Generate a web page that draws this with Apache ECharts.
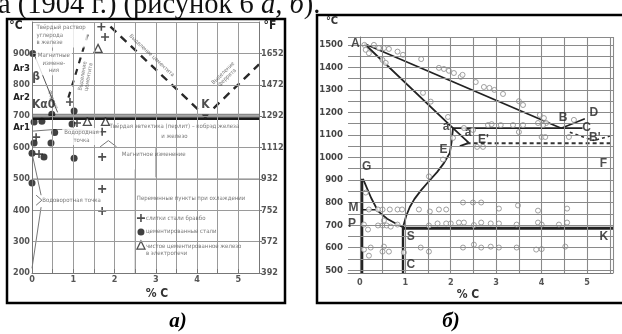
<!DOCTYPE html>
<html>
<head>
<meta charset="utf-8">
<script src="https://cdn.jsdelivr.net/npm/echarts@6/dist/echarts.min.js"></script>
<style>
html, body { margin: 0; padding: 0; background: #fff; }
#chart { width: 622px; height: 334px; }
</style>
</head>
<body>
<div id="chart"></div>
<script>
// ---------- panel а) ----------
const aXLabels = [0, 1, 2, 3, 4, 5];
const aXGrid = [0.5, 1, 1.5, 2, 2.5, 3, 3.5, 4, 4.5, 5];
const aYGrid = [300, 400, 500, 600, 700, 800, 900, 1000];
const aCelsius = [200, 300, 400, 500, 600, 700, 800, 900];
const aArValues = [663, 760, 853];
const aArNames = ['Ar1', 'Ar2', 'Ar3'];

const aEutectoid = [[0, 692], [5.5, 692]];
const aEutectoidShade = [[0, 704], [5.5, 704]];
const aCementiteDash = [[1.9, 985], [4.05, 718]];
const aFerriteDash = [[4.4, 725], [5.5, 865]];
const aAcmDash = [[1.35, 960], [0.85, 745]];
const aFerriteLine = [[0.05, 898], [0.62, 712]];
const aHydrogenLine = [[0, 652], [0.5, 657], [1.0, 658], [1.6, 650]];
const aCaret = [[1.65, 602], [1.85, 622], [2.05, 602]];
const aVortexUpper = [[0, 582], [0.22, 448]];
const aVortexLower = [[0, 215], [0.22, 410]];
const aVortexBracket = [[0.1, 448], [0.24, 432], [0.1, 416]];
const aLegendEdge = [[2.5, 200], [2.5, 530]];
const aStub30 = [[3, 598], [3, 505]];
const aStub35 = [[3.5, 598], [3.5, 505]];

const aDots = [[0.02, 900], [0.05, 681], [0.24, 684], [0.48, 706], [1.02, 716], [0.97, 675],
  [0.55, 648], [0.05, 614], [0.46, 614], [0.0, 582], [0.29, 570], [1.02, 566], [0.0, 487]];
const aPluses = [[1.09, 678], [1.7, 650], [0.92, 745], [0.1, 633], [0.17, 579], [1.7, 570],
  [1.7, 468], [1.7, 398], [1.68, 985], [1.77, 952]];
const aTriangles = [[1.34, 683], [1.78, 683], [1.6, 916]];
const aKPoint = [[4.2, 697]];
const aLegendPlus = [[2.64, 375]];
const aLegendDot = [[2.64, 331]];
const aLegendTri = [[2.64, 289]];

// ---------- panel б) ----------
const bXLabels = [0, 1, 2, 3, 4, 5];
const bXGrid = [0, 0.5, 1, 1.5, 2, 2.5, 3, 3.5, 4, 4.5, 5, 5.5, 5.57];
const bYLabels = [500, 600, 700, 800, 900, 1000, 1100, 1200, 1300, 1400, 1500];
const bYGrid = [500, 550, 600, 650, 700, 750, 800, 850, 900, 950, 1000, 1050, 1100,
  1150, 1200, 1250, 1300, 1350, 1400, 1450, 1500, 1535];

const bAB = [[0.1, 1505], [4.43, 1130]];
const bAa = [[0.1, 1505], [2.05, 1130], [2.4, 1065], [2.2, 1050]];
const baC = [[2.05, 1130], [4.9, 1130]];
const bBD = [[4.43, 1130], [4.95, 1172]];
const bEutectic = [[2.35, 1063], [5.57, 1063]];
const bB1 = [[4.62, 1112], [5.15, 1075]];
const bD1 = [[5.2, 1078], [5.55, 1098]];
const bES = [[0.95, 690], [1.02, 740], [1.1, 780], [1.2, 815], [1.35, 855], [1.5, 890],
  [1.7, 935], [1.85, 975], [1.98, 1020], [2.02, 1070], [2.05, 1130]];
const bGS = [[0.07, 905], [0.25, 820], [0.4, 762], [0.6, 728], [0.8, 706], [0.95, 690]];
const bGP = [[0.05, 905], [0.05, 487]];
const bM = [[0.05, 768], [0.38, 768]];
const bSK = [[0.95, 686], [5.57, 686]];
const bSC = [[0.95, 690], [0.95, 487]];

const bCircles = [
  [0.1, 1500], [0.13, 1478], [0.2, 1463], [0.31, 1500], [0.42, 1486], [0.53, 1486], [0.64, 1482],
  [0.83, 1470], [0.95, 1456], [0.5, 1433], [0.57, 1420], [1.35, 1437], [1.74, 1398], [1.85, 1393],
  [1.96, 1385], [2.07, 1375], [2.22, 1358], [1.39, 1287], [1.56, 1248], [1.94, 1180],
  [2.26, 1367], [2.55, 1335], [2.73, 1313], [2.85, 1309], [2.96, 1300], [3.15, 1282], [3.5, 1250],
  [3.59, 1233], [3.96, 1189], [4.05, 1175], [4.1, 1153], [3.92, 1153], [4.71, 1167],
  [2.29, 1131], [2.82, 1144], [2.9, 1148], [3.1, 1144], [3.37, 1144], [3.59, 1144], [4.03, 1144],
  [3.5, 1113], [4.0, 1091], [4.08, 1091], [4.6, 1091], [2.58, 1047], [2.71, 1047], [2.49, 1122],
  [2.05, 1087],
  [0.2, 769], [0.4, 769], [0.5, 769], [0.66, 769], [0.83, 769], [0.93, 769], [1.3, 769],
  [1.54, 760], [1.74, 769], [1.9, 769],
  [0.09, 702], [0.18, 680], [0.4, 698], [0.5, 698], [0.59, 698], [0.68, 693], [0.53, 720],
  [0.83, 702], [1.52, 698], [1.71, 707], [1.9, 707], [2.0, 707], [2.18, 711], [2.29, 711],
  [0.09, 591], [0.24, 600], [0.2, 564], [0.53, 604], [0.5, 582], [0.64, 582], [0.97, 578],
  [1.34, 600], [1.52, 582],
  [1.52, 916], [1.83, 991], [0.13, 844],
  [2.27, 800], [2.49, 800], [2.67, 800], [3.06, 773], [3.48, 787], [3.92, 764], [4.56, 773],
  [2.51, 700], [2.67, 711], [2.88, 707], [3.06, 707], [3.45, 702], [3.92, 711], [4.0, 702],
  [4.38, 702], [4.56, 711],
  [2.27, 600], [2.51, 613], [2.67, 600], [2.88, 604], [3.06, 600], [3.45, 600], [3.88, 591],
  [4.0, 593], [4.52, 604]
];

// annotation texts, anchored in data units
const aNotes = [
  { text: 'Твёрдый раствор\nуглерода\nв железе', at: [0.06, 958], kind: 'boxL' },
  { text: 'Магнитные\nизмене-\nния', at: [0.53, 869], kind: 'box' },
  { text: 'Феррит', at: [0.5, 752], rotate: -68, kind: 'small' },
  { text: 'Выделение\nцементита', at: [1.3, 826], rotate: 80, kind: 'small' },
  { text: 'Выделение цементита', at: [2.9, 893], rotate: -43, kind: 'small' },
  { text: 'Выделение\nферрита', at: [4.68, 830], rotate: 44, kind: 'small' },
  { text: 'Kα0', at: [0.0, 735], kind: 'bigL' },
  { text: 'β', at: [0.1, 824], kind: 'big' },
  { text: 'K', at: [4.2, 737], kind: 'big' },
  { text: 'Твёрдая эвтектика (перлит) – кобрэд железа\nи железо', at: [3.45, 650], kind: 'plain' },
  { text: 'Водородная\nточка', at: [1.2, 635], kind: 'box' },
  { text: 'Магнитное изменение', at: [2.95, 577], kind: 'plain' },
  { text: 'Водоворотная точка', at: [0.25, 430], kind: 'plainL' },
  { text: 'Переменные пункты при охлаждении', at: [2.54, 439], kind: 'plainL' },
  { text: 'слитки стали бравбо', at: [2.76, 375], kind: 'plainL' },
  { text: 'цементированные стали', at: [2.76, 331], kind: 'plainL' },
  { text: 'чистое цементированное железо\nв электропечи', at: [2.76, 274], kind: 'plainL' }
];
const bNotes = [
  { text: 'A', at: [-0.1, 1505] }, { text: 'B', at: [4.47, 1176] }, { text: 'D', at: [5.15, 1198] },
  { text: 'C', at: [4.99, 1131] }, { text: "D'", at: [5.66, 1136] }, { text: "B'", at: [5.17, 1090] },
  { text: "E'", at: [2.72, 1080] }, { text: 'a', at: [1.9, 1135] }, { text: 'a', at: [2.38, 1110] },
  { text: 'E', at: [1.84, 1035] }, { text: 'G', at: [0.15, 958] }, { text: 'M', at: [-0.14, 779] },
  { text: 'P', at: [-0.17, 705] }, { text: 'S', at: [1.12, 650] }, { text: 'C', at: [1.12, 522] },
  { text: 'K', at: [5.37, 650] }, { text: 'F', at: [5.36, 972] }
];

const SANS = '"Liberation Sans Narrow", "DejaVu Sans Condensed", "Liberation Sans", sans-serif';
const SERIF = '"Liberation Serif", "DejaVu Serif", serif';

function seg(data, idx, color, width, type, z) {
  return {
    type: 'line', xAxisIndex: idx, yAxisIndex: idx === 0 ? 0 : 2, data: data,
    symbol: 'none', silent: true, z: z || 3,
    lineStyle: { color: color, width: width, type: type || 'solid', cap: 'butt' }
  };
}
function gridLines(idx, xs, ys, color, width) {
  return {
    type: 'scatter', xAxisIndex: idx, yAxisIndex: idx === 0 ? 0 : 2, data: [], z: 1, silent: true,
    markLine: {
      silent: true, symbol: ['none', 'none'], label: { show: false }, animation: false,
      lineStyle: { color: color, width: width, type: 'solid' },
      data: xs.map(v => ({ xAxis: v })).concat(ys.map(v => ({ yAxis: v })))
    }
  };
}
function noteItem(n) {
  const k = n.kind;
  const lab = {
    show: true, position: 'inside', formatter: n.text, rotate: n.rotate || 0,
    fontFamily: SANS, color: '#555', fontSize: 6, lineHeight: 7.5
  };
  if (k === 'boxL' || k === 'box') { lab.backgroundColor = '#fff'; lab.padding = [1, 2]; }
  if (k === 'boxL' || k === 'plainL' || k === 'bigL') lab.align = 'left';
  if (k === 'small') { lab.fontSize = 5.5; lab.lineHeight = 6; }
  if (k === 'big' || k === 'bigL') { lab.fontSize = 12; lab.fontWeight = 'bold'; lab.color = '#222'; lab.lineHeight = 13; }
  if (k === 'plain') { lab.lineHeight = 10; }
  return { value: n.at, label: lab };
}

const chart = echarts.init(document.getElementById('chart'));
const axisFont = { fontFamily: SANS, fontWeight: 'bold', color: '#555', fontSize: 9 };

chart.setOption({
  animation: false,
  backgroundColor: '#fff',
  grid: [
    { left: 32, top: 22, width: 227, height: 251 },
    { left: 348, top: 37, width: 265, height: 236 }
  ],
  xAxis: [
    {
      gridIndex: 0, type: 'value', min: 0, max: 5.5, interval: 0.5, z: 6,
      axisLine: { lineStyle: { color: '#777', width: 1 } },
      axisTick: { show: true, inside: true, length: 4, lineStyle: { color: '#777' } },
      axisLabel: Object.assign({ customValues: aXLabels, margin: 2, formatter: v => String(v) }, axisFont),
      splitLine: { show: false }
    },
    {
      gridIndex: 1, type: 'value', min: -0.26, max: 5.57, z: 6,
      axisLine: { lineStyle: { color: '#777', width: 1 } },
      axisTick: { show: false },
      axisLabel: Object.assign({ customValues: bXLabels, margin: 5, formatter: v => String(v) }, axisFont),
      splitLine: { show: false }
    }
  ],
  yAxis: [
    {
      gridIndex: 0, type: 'value', min: 200, max: 1000, z: 6,
      axisLine: { show: true, lineStyle: { color: '#777', width: 1 } },
      axisTick: { show: false },
      axisLabel: Object.assign({
        customValues: aCelsius.concat(aArValues), margin: 2,
        formatter: v => {
          const i = aArValues.indexOf(v);
          return i >= 0 ? '{ar|' + aArNames[i] + '}' : String(v);
        },
        rich: { ar: { fontFamily: SANS, fontWeight: 'bold', fontSize: 9.5, color: '#222' } }
      }, axisFont),
      splitLine: { show: false }
    },
    {
      gridIndex: 0, type: 'value', position: 'right', min: 200, max: 1000, z: 6,
      axisLine: { show: true, lineStyle: { color: '#777', width: 1 } },
      axisTick: { show: true, customValues: aCelsius, length: 3, lineStyle: { color: '#777' } },
      axisLabel: Object.assign({
        customValues: aCelsius, margin: 2,
        formatter: v => String(Math.round(v * 1.8 + 32))
      }, axisFont),
      splitLine: { show: false }
    },
    {
      gridIndex: 1, type: 'value', min: 487, max: 1535, z: 6,
      axisLine: { show: true, lineStyle: { color: '#777', width: 1 } },
      axisTick: { show: false },
      axisLabel: Object.assign({ customValues: bYLabels, margin: 5, formatter: v => String(v) },
        axisFont, { fontSize: 9.5, color: '#444' }),
      splitLine: { show: false }
    }
  ],
  series: [
    // ---- а) ----
    gridLines(0, aXGrid, aYGrid, '#9a9a9a', 1),
    {
      type: 'scatter', xAxisIndex: 0, yAxisIndex: 0, data: [], z: 2, silent: true,
      markArea: {
        silent: true, itemStyle: { color: '#fff' },
        data: [[{ coord: [2.5, 200] }, { coord: [5.5, 598] }]]
      }
    },
    seg(aLegendEdge, 0, '#9a9a9a', 1, 'solid', 2),
    seg(aStub30, 0, '#9a9a9a', 1, 'solid', 2),
    seg(aStub35, 0, '#9a9a9a', 1, 'solid', 2),
    seg([[0, 500], [5.5, 500]], 0, '#9a9a9a', 1, 'solid', 2),
    seg(aEutectoidShade, 0, '#888', 2, 'solid', 3),
    seg(aEutectoid, 0, '#1a1a1a', 2.6, 'solid', 3),
    seg(aCementiteDash, 0, '#2a2a2a', 2.4, [8, 6]),
    seg(aFerriteDash, 0, '#2a2a2a', 2.4, [8, 6]),
    seg(aAcmDash, 0, '#2a2a2a', 2.2, [6, 6]),
    seg(aFerriteLine, 0, '#555', 1),
    seg(aHydrogenLine, 0, '#777', 1),
    seg(aCaret, 0, '#777', 1),
    seg(aVortexUpper, 0, '#777', 1),
    seg(aVortexLower, 0, '#777', 1),
    seg(aVortexBracket, 0, '#777', 1),
    {
      type: 'scatter', xAxisIndex: 0, yAxisIndex: 0, z: 4, silent: true,
      data: aDots.concat(aLegendDot), symbol: 'circle', symbolSize: 7,
      itemStyle: { color: '#111' }
    },
    {
      type: 'scatter', xAxisIndex: 0, yAxisIndex: 0, z: 4, silent: true,
      data: aPluses.concat(aLegendPlus), symbol: 'path://M4,0H6V4H10V6H6V10H4V6H0V4H4Z', symbolSize: 8,
      itemStyle: { color: '#222' }
    },
    {
      type: 'scatter', xAxisIndex: 0, yAxisIndex: 0, z: 4, silent: true,
      data: aTriangles.concat(aLegendTri), symbol: 'triangle', symbolSize: 8,
      itemStyle: { color: '#fff', borderColor: '#222', borderWidth: 1.3 }
    },
    {
      type: 'scatter', xAxisIndex: 0, yAxisIndex: 0, z: 4, silent: true,
      data: aKPoint, symbol: 'triangle', symbolRotate: 180, symbolSize: [7, 5],
      itemStyle: { color: '#222' }
    },
    {
      type: 'scatter', xAxisIndex: 0, yAxisIndex: 0, z: 5, silent: true,
      data: aNotes.map(noteItem), symbolSize: 1, itemStyle: { color: 'rgba(0,0,0,0)' }
    },
    // ---- б) ----
    gridLines(1, bXGrid, bYGrid, '#8a8a8a', 1.1),
    {
      type: 'scatter', xAxisIndex: 1, yAxisIndex: 2, z: 3, silent: true,
      data: bCircles, symbol: 'circle', symbolSize: 5,
      itemStyle: { color: '#fff', borderColor: '#8a8a8a', borderWidth: 1 }
    },
    seg(bAB, 1, '#222', 1.8),
    seg(bAa, 1, '#222', 1.8),
    seg(baC, 1, '#222', 1.8),
    seg(bBD, 1, '#222', 1.6),
    seg(bEutectic, 1, '#333', 2, [4, 3]),
    seg(bB1, 1, '#333', 1.6, [3, 3]),
    seg(bD1, 1, '#333', 1.6, [3, 3]),
    seg(bES, 1, '#222', 1.8),
    seg(bGS, 1, '#222', 1.8),
    seg(bGP, 1, '#222', 2.4),
    seg(bM, 1, '#222', 1.6),
    seg(bSK, 1, '#222', 3),
    seg(bSC, 1, '#222', 2.4),
    {
      type: 'scatter', xAxisIndex: 1, yAxisIndex: 2, z: 5, silent: true, symbolSize: 1,
      itemStyle: { color: 'rgba(0,0,0,0)' },
      data: bNotes.map(n => ({
        value: n.at,
        label: {
          show: true, position: 'inside', formatter: n.text,
          fontFamily: '"Liberation Sans", Arial, sans-serif', fontWeight: 'bold', fontSize: 12, color: '#222'
        }
      }))
    }
  ],
  graphic: [
    {
      type: 'text', x: -2, y: 6,
      style: {
        text: '{n|а (1904 г.) (рисунок 6 }{i|а, б}{n|).}',
        verticalAlign: 'middle',
        rich: {
          n: { fontFamily: SERIF, fontSize: 28.5, fill: '#111' },
          i: { fontFamily: SERIF, fontSize: 28.5, fontStyle: 'italic', fill: '#111' }
        }
      }
    },
    { type: 'rect', shape: { x: 7, y: 19, width: 278, height: 284 }, style: { fill: 'none', stroke: '#000', lineWidth: 2.5 }, z: 10 },
    { type: 'rect', shape: { x: 317, y: 15, width: 320, height: 288 }, style: { fill: 'none', stroke: '#000', lineWidth: 2.5 }, z: 10 },
    { type: 'text', x: 16, y: 26, style: { text: '°C', align: 'center', verticalAlign: 'middle', font: 'bold 12px ' + SANS, fill: '#222' }, z: 10 },
    { type: 'text', x: 270, y: 26, style: { text: '°F', align: 'center', verticalAlign: 'middle', font: 'bold 12px ' + SANS, fill: '#222' }, z: 10 },
    { type: 'text', x: 157, y: 294, style: { text: '% C', align: 'center', verticalAlign: 'middle', font: 'bold 12px ' + SANS, fill: '#333' }, z: 10 },
    { type: 'text', x: 332, y: 21, style: { text: '°C', align: 'center', verticalAlign: 'middle', font: 'bold 11px ' + SANS, fill: '#333' }, z: 10 },
    { type: 'text', x: 468, y: 295, style: { text: '% C', align: 'center', verticalAlign: 'middle', font: 'bold 12px ' + SANS, fill: '#333' }, z: 10 },
    { type: 'text', x: 178, y: 322, style: { text: 'а)', align: 'center', verticalAlign: 'middle', font: 'italic bold 21px ' + SERIF, fill: '#000' }, z: 10 },
    { type: 'text', x: 451, y: 322, style: { text: 'б)', align: 'center', verticalAlign: 'middle', font: 'italic bold 21px ' + SERIF, fill: '#000' }, z: 10 }
  ]
});
</script>
</body>
</html>
